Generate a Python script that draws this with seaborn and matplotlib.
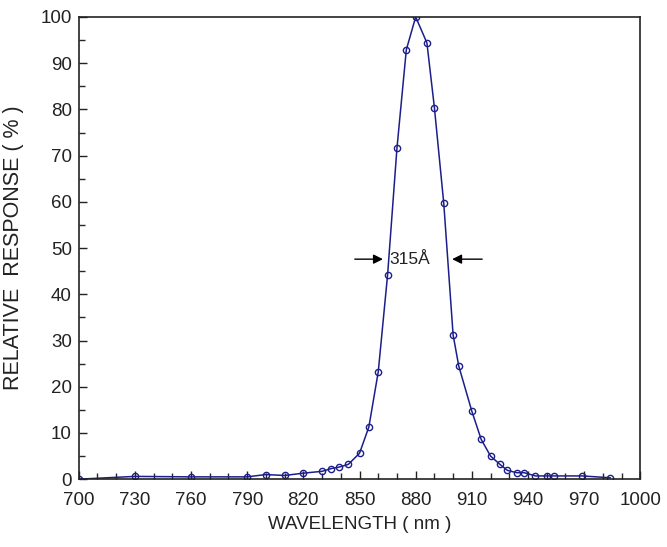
import numpy as np
import pandas as pd
import matplotlib.pyplot as plt
import seaborn as sns
from matplotlib.ticker import MultipleLocator

# spectral response
wavelength = [700, 730, 760, 790, 800, 810, 820, 830, 835, 839, 844, 850, 855, 860,
              865, 870, 875, 880, 886, 890, 895, 900, 903, 910, 915, 920, 925, 929,
              934, 938, 944, 950, 954, 969, 984]
response = [0.0, 0.6, 0.5, 0.5, 1.0, 0.8, 1.3, 1.7, 2.3, 2.6, 3.2, 5.6, 11.3, 23.2,
            44.2, 71.6, 92.9, 100.0, 94.4, 80.4, 59.7, 31.2, 24.5, 14.7, 8.6, 5.0, 3.2, 1.9,
            1.4, 1.4, 0.7, 0.7, 0.7, 0.7, 0.3]
x_ticks = [700, 730, 760, 790, 820, 850, 880, 910, 940, 970, 1000]
fwhm_label = "315Å"

df = pd.DataFrame({"wavelength": wavelength, "response": response})

sns.set_theme(style="ticks")
plt.rcParams['font.family'] = ['Liberation Sans', 'DejaVu Sans']

fig, ax = plt.subplots(figsize=(6.67, 5.47), dpi=100)
fig.subplots_adjust(left=0.118, right=0.96, top=0.969, bottom=0.124)

navy = "#1c1f8a"
sns.lineplot(data=df, x="wavelength", y="response", ax=ax, color=navy, lw=1.1,
             marker="o", markersize=4.5, markerfacecolor="none",
             markeredgecolor=navy, markeredgewidth=1.0)

ax.set_xlim(700, 1000)
ax.set_ylim(0, 100)
ax.set_xticks(x_ticks)
ax.xaxis.set_minor_locator(MultipleLocator(10))
ax.yaxis.set_major_locator(MultipleLocator(10))
ax.yaxis.set_minor_locator(MultipleLocator(5))
ax.tick_params(which="major", direction="in", length=6, width=1.0, labelsize=13.5,
               colors="#222222")
ax.tick_params(axis="x", which="major", pad=9)
ax.tick_params(axis="y", which="major", pad=5)
ax.tick_params(which="minor", direction="in", length=4, width=1.0)
for s in ax.spines.values():
    s.set_color("#222222")
    s.set_linewidth(1.2)

ax.set_xlabel("WAVELENGTH ( nm )", fontsize=13.5, color="#222222", labelpad=5)
ax.set_ylabel("RELATIVE  RESPONSE ( % )", fontsize=15.5, color="#222222", labelpad=12)

# FWHM annotation
ax.annotate("", xy=(864, 47.6), xytext=(846, 47.6),
            arrowprops=dict(arrowstyle="-|>", color="black", lw=1.0, mutation_scale=14))
ax.annotate("", xy=(898, 47.6), xytext=(917, 47.6),
            arrowprops=dict(arrowstyle="-|>", color="black", lw=1.0, mutation_scale=14))
ax.text(877, 47.6, fwhm_label, ha="center", va="center", fontsize=12.5, color="#222222")

fig.savefig("out.png", dpi=100, facecolor="white")
